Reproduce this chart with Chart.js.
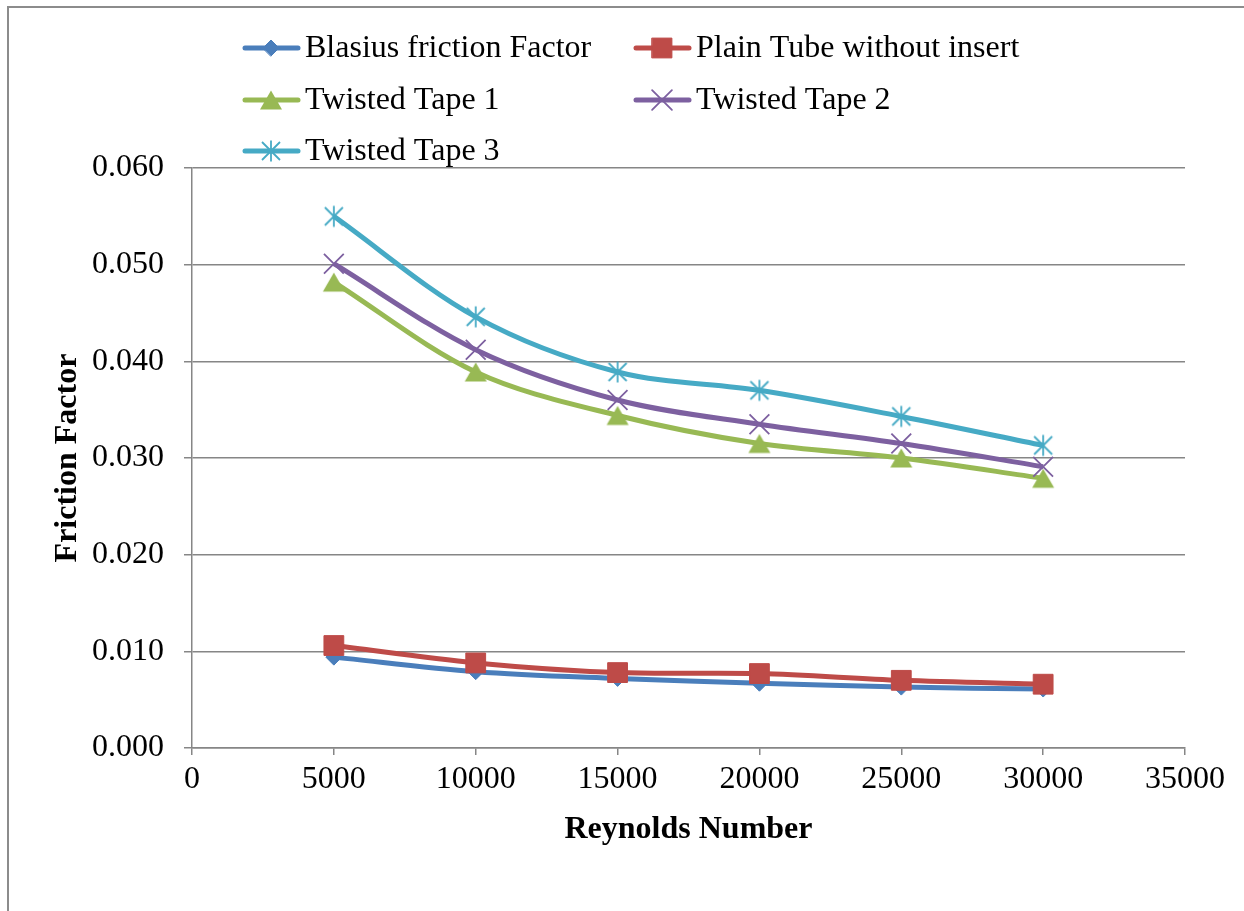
<!DOCTYPE html>
<html>
<head>
<meta charset="utf-8">
<script src="https://cdn.jsdelivr.net/npm/chart.js@4.4.0/dist/chart.umd.min.js"></script>
<style>
html,body{margin:0;padding:0;background:#fff;}
#wrap{position:relative;width:1244px;height:911px;overflow:hidden;}
#frame{position:absolute;left:7px;top:6px;right:-10px;bottom:-10px;border-left:2px solid #8c8c8c;border-top:2px solid #8c8c8c;}
canvas{position:absolute;left:0;top:0;}
</style>
</head>
<body>
<div id="wrap"><div id="frame"></div><canvas id="c" width="1244" height="911"></canvas></div>
<script>
// Reynolds numbers on the x axis
const reynolds=[5000,10000,15000,20000,25000,30000];

// friction factor for each series
const blasius=[0.0094,0.0079,0.0072,0.0067,0.0063,0.0061];
const plainTube=[0.0106,0.0088,0.0078,0.0077,0.0070,0.0066];
const tape1=[0.0482,0.0389,0.0344,0.0315,0.0300,0.0279];
const tape2=[0.0501,0.0412,0.0360,0.0335,0.0315,0.0291];
const tape3=[0.0550,0.0446,0.0389,0.0370,0.0343,0.0313];

const seriesNames=["Blasius friction Factor","Plain Tube without insert","Twisted Tape 1","Twisted Tape 2","Twisted Tape 3"];
const seriesValues=[blasius,plainTube,tape1,tape2,tape3];
const seriesColors=["#4A7EBB","#BE4B48","#98B954","#7D60A0","#46AAC5"];

const FONT='"Liberation Serif","Times New Roman",serif';

// marker for the twisted tape 1 series (triangle, centred on its box)
function triangleMarker(color){
  const c=document.createElement("canvas");
  c.width=24;c.height=22;
  const g=c.getContext("2d");
  g.fillStyle=color;
  g.beginPath();
  g.moveTo(12,1.5);g.lineTo(23,20.5);g.lineTo(1,20.5);g.closePath();
  g.fill();
  return c;
}

// asterisk marker: an X plus a vertical bar
function starMarker(color){
  const c=document.createElement("canvas");
  c.width=24;c.height=24;
  const g=c.getContext("2d");
  g.strokeStyle=color;g.lineWidth=1.8;
  g.beginPath();
  g.moveTo(3,3);g.lineTo(21,21);
  g.moveTo(21,3);g.lineTo(3,21);
  g.moveTo(12,1.5);g.lineTo(12,22.5);
  g.stroke();
  return c;
}

const markerStyles=["rectRot","rect",triangleMarker(seriesColors[2]),"crossRot",starMarker(seriesColors[4])];
const markerRadius=[8,14,11,14,12];
const markerBorder=[1,1,0,1.8,0];

const datasets=seriesNames.map((name,i)=>({
  label:name,
  data:reynolds.map((x,j)=>({x:x,y:seriesValues[i][j]})),
  borderColor:seriesColors[i],
  backgroundColor:seriesColors[i],
  borderWidth:5,
  tension:0.33,
  pointStyle:markerStyles[i],
  pointRadius:markerRadius[i],
  pointHoverRadius:markerRadius[i],
  pointBackgroundColor:seriesColors[i],
  pointBorderColor:seriesColors[i],
  pointBorderWidth:markerBorder[i],
  order:5-i
}));

const legendPos=[[243,48],[634,48],[243,100],[634,100],[243,151]];

const gridLegend={
  id:"gridLegend",
  afterDraw(chart){
    const ctx=chart.ctx;
    chart.data.datasets.forEach((ds,i)=>{
      const x=legendPos[i][0],y=legendPos[i][1];
      ctx.save();
      ctx.strokeStyle=ds.borderColor;
      ctx.lineWidth=ds.borderWidth;
      ctx.lineCap="round";
      ctx.beginPath();ctx.moveTo(x+2,y);ctx.lineTo(x+55,y);ctx.stroke();
      ctx.fillStyle=ds.pointBackgroundColor;
      ctx.strokeStyle=ds.pointBorderColor;
      ctx.lineWidth=ds.pointBorderWidth;
      Chart.helpers.drawPoint(ctx,{pointStyle:ds.pointStyle,radius:ds.pointRadius,borderWidth:ds.pointBorderWidth,rotation:0},x+28,y);
      ctx.fillStyle="#000";
      ctx.font="32px "+FONT;
      ctx.textBaseline="middle";
      ctx.textAlign="left";
      ctx.fillText(ds.label,x+62,y+1);
      ctx.restore();
    });
  }
};

new Chart(document.getElementById("c"),{
  type:"line",
  data:{datasets:datasets},
  options:{
    responsive:false,
    animation:false,
    layout:{padding:{left:20,right:59,top:168,bottom:0}},
    plugins:{legend:{display:false},tooltip:{enabled:false}},
    scales:{
      x:{
        type:"linear",min:0,max:35000,
        ticks:{stepSize:5000,color:"#000",font:{family:FONT,size:32},padding:5,callback:v=>String(v),maxRotation:0},
        grid:{drawOnChartArea:false,drawTicks:true,tickLength:7,color:"#868686",lineWidth:1.5},
        border:{color:"#868686",width:1.5},
        title:{display:true,text:"Reynolds Number",color:"#000",font:{family:FONT,size:32,weight:"bold"},padding:{top:0,bottom:62}},
        afterFit(s){s.height=163;}
      },
      y:{
        min:0,max:0.06,
        ticks:{stepSize:0.01,color:"#000",font:{family:FONT,size:32},padding:20,callback:v=>v.toFixed(3)},
        grid:{color:"#868686",lineWidth:1.5,tickLength:8},
        border:{color:"#868686",width:1.5},
        title:{display:true,text:"Friction Factor",color:"#000",font:{family:FONT,size:32,weight:"bold"},padding:{top:29,bottom:0}},
        afterFit(s){s.width=172;}
      }
    }
  },
  plugins:[gridLegend]
});
</script>
</body>
</html>
